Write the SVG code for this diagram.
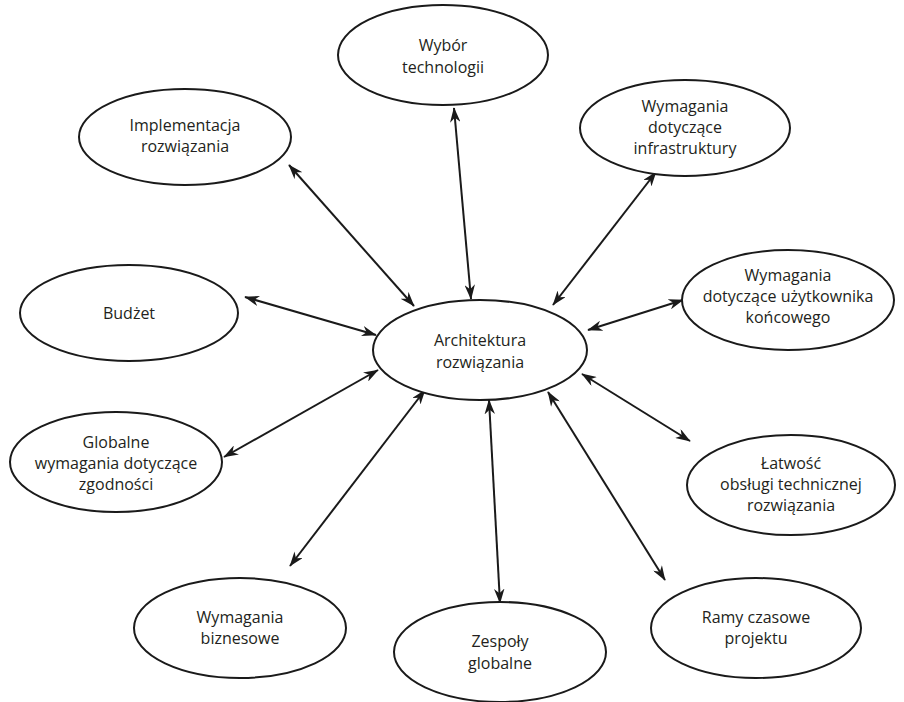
<svg xmlns="http://www.w3.org/2000/svg" width="904" height="702" viewBox="0 0 904 702">
<style>
.n ellipse{fill:#fff;stroke:#1a1a1a;stroke-width:2}
.n text{font-family:"Open Sans","Liberation Sans",sans-serif;font-size:16px;fill:#231f20;text-anchor:middle}
.c line{stroke:#1a1a1a;stroke-width:2;marker-start:url(#a);marker-end:url(#a)}
</style>
<defs>
<marker id="a" viewBox="0 0 20 14" refX="19" refY="7" markerWidth="15" markerHeight="10.5" markerUnits="userSpaceOnUse" orient="auto-start-reverse">
<path d="M0,0 L20,7 L0,14 L6,7 Z" fill="#1a1a1a"/>
</marker>
</defs>
<rect width="904" height="702" fill="#fff"/>
<g class="c">
<line x1="454" y1="108" x2="471" y2="299"/>
<line x1="289" y1="165" x2="414" y2="306"/>
<line x1="656" y1="172" x2="553" y2="305"/>
<line x1="245" y1="297" x2="376" y2="335"/>
<line x1="683" y1="300" x2="588" y2="330"/>
<line x1="224" y1="457" x2="378" y2="370"/>
<line x1="690" y1="441" x2="582" y2="374"/>
<line x1="290" y1="566" x2="425" y2="390"/>
<line x1="489" y1="400" x2="500" y2="603"/>
<line x1="665" y1="580" x2="548" y2="392"/>
</g>
<g id="n-wybor" class="n"><ellipse cx="443" cy="55" rx="105" ry="50"/><text x="443" y="51">Wybór</text><text x="443" y="73">technologii</text></g>
<g id="n-impl" class="n"><ellipse cx="185" cy="137" rx="106" ry="48"/><text x="185" y="131">Implementacja</text><text x="185" y="152">rozwiązania</text></g>
<g id="n-infra" class="n"><ellipse cx="685" cy="128" rx="105" ry="48"/><text x="685" y="112">Wymagania</text><text x="685" y="133">dotyczące</text><text x="685" y="154">infrastruktury</text></g>
<g id="n-budzet" class="n"><ellipse cx="129" cy="313" rx="109" ry="48"/><text x="129" y="319">Budżet</text></g>
<g id="n-arch" class="n"><ellipse cx="480" cy="350" rx="107" ry="50"/><text x="480" y="346">Architektura</text><text x="480" y="368">rozwiązania</text></g>
<g id="n-user" class="n"><ellipse cx="788" cy="300" rx="106" ry="50"/><text x="788" y="281">Wymagania</text><text x="788" y="302">dotyczące użytkownika</text><text x="788" y="323">końcowego</text></g>
<g id="n-glob" class="n"><ellipse cx="116" cy="462" rx="106" ry="50"/><text x="116" y="448">Globalne</text><text x="116" y="469">wymagania dotyczące</text><text x="116" y="490">zgodności</text></g>
<g id="n-latw" class="n"><ellipse cx="791" cy="485" rx="104" ry="50"/><text x="791" y="469">Łatwość</text><text x="791" y="490">obsługi technicznej</text><text x="791" y="511">rozwiązania</text></g>
<g id="n-biz" class="n"><ellipse cx="240" cy="628" rx="106" ry="50"/><text x="240" y="623">Wymagania</text><text x="240" y="644">biznesowe</text></g>
<g id="n-zesp" class="n"><ellipse cx="500" cy="652" rx="106" ry="50"/><text x="500" y="647">Zespoły</text><text x="500" y="669">globalne</text></g>
<g id="n-ramy" class="n"><ellipse cx="756" cy="628" rx="105" ry="50"/><text x="756" y="623">Ramy czasowe</text><text x="756" y="644">projektu</text></g>
</svg>
